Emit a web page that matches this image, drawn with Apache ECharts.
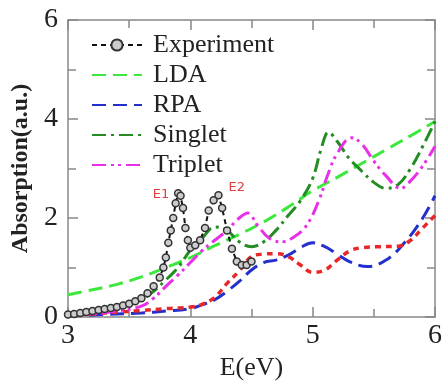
<!doctype html>
<html lang="en">
<head>
    <meta charset="UTF-8">
    <title>Absorption</title>
    <script type="text/javascript" src="https://cdn.jsdelivr.net/npm/echarts@6/dist/echarts.min.js"></script>
    <style>
        html, body { margin: 0; padding: 0; background: #fff; }
        #main { width: 442px; height: 381px; }
    </style>
</head>
<body>
<div id="main"></div>
<script type="text/javascript">
// experiment (circles + dashed line)
var expX = [3.0, 3.05, 3.1, 3.15, 3.2, 3.25, 3.3, 3.35, 3.4, 3.45, 3.5, 3.55, 3.6, 3.65, 3.7, 3.75, 3.78, 3.8, 3.82, 3.84, 3.86, 3.88, 3.9, 3.92, 3.94, 3.96, 3.98, 4.0, 4.04, 4.08, 4.12, 4.15, 4.19, 4.23, 4.26, 4.3, 4.34, 4.38, 4.42, 4.46, 4.5];
var expY = [0.05, 0.06, 0.08, 0.1, 0.12, 0.14, 0.16, 0.18, 0.2, 0.23, 0.27, 0.32, 0.38, 0.48, 0.62, 0.8, 1.0, 1.2, 1.5, 1.75, 2.0, 2.3, 2.5, 2.45, 2.2, 1.8, 1.55, 1.4, 1.45, 1.55, 1.8, 2.15, 2.36, 2.46, 2.2, 1.75, 1.38, 1.12, 1.05, 1.05, 1.12];

var ldaX = [3.0, 3.2, 3.4, 3.6, 3.8, 4.0, 4.2, 4.4, 4.6, 4.8, 5.0, 5.2, 5.4, 5.6, 5.8, 6.0];
var ldaY = [0.45, 0.55, 0.66, 0.81, 1.0, 1.2, 1.44, 1.67, 1.92, 2.22, 2.55, 2.82, 3.1, 3.38, 3.66, 3.95];

var rpaX = [3.0, 3.3, 3.6, 3.8, 4.0, 4.1, 4.2, 4.3, 4.4, 4.5, 4.6, 4.7, 4.8, 4.9, 5.0, 5.1, 5.2, 5.3, 5.45, 5.6, 5.75, 5.9, 6.0];
var rpaY = [0.02, 0.05, 0.08, 0.12, 0.17, 0.25, 0.35, 0.52, 0.72, 0.95, 1.1, 1.15, 1.25, 1.4, 1.5, 1.42, 1.27, 1.12, 1.02, 1.15, 1.5, 2.0, 2.45];

var singX = [3.0, 3.2, 3.4, 3.6, 3.7, 3.8, 3.9, 4.0, 4.1, 4.2, 4.3, 4.4, 4.5, 4.6, 4.7, 4.8, 4.9, 5.0, 5.07, 5.13, 5.2, 5.3, 5.4, 5.5, 5.6, 5.7, 5.8, 5.9, 6.0];
var singY = [0.03, 0.08, 0.17, 0.35, 0.52, 0.75, 1.0, 1.35, 1.6, 1.82, 1.75, 1.52, 1.42, 1.52, 1.75, 2.05, 2.35, 2.8, 3.4, 3.73, 3.55, 3.2, 2.95, 2.72, 2.6, 2.68, 3.0, 3.45, 3.95];

var tripX = [3.0, 3.2, 3.4, 3.6, 3.7, 3.8, 3.9, 4.0, 4.1, 4.2, 4.3, 4.4, 4.47, 4.55, 4.65, 4.75, 4.85, 4.95, 5.05, 5.12, 5.2, 5.32, 5.4, 5.5, 5.6, 5.72, 5.8, 5.9, 6.0];
var tripY = [0.03, 0.06, 0.12, 0.22, 0.38, 0.62, 0.85, 1.1, 1.35, 1.55, 1.75, 2.0, 2.1, 1.85, 1.58, 1.52, 1.62, 1.85, 2.35, 2.85, 3.3, 3.62, 3.5, 3.15, 2.85, 2.6, 2.75, 3.05, 3.45];

// red dotted curve (no legend entry)
var redX = [3.0, 3.3, 3.6, 3.8, 4.0, 4.1, 4.2, 4.3, 4.4, 4.5, 4.6, 4.7, 4.8, 4.9, 5.0, 5.1, 5.2, 5.3, 5.4, 5.55, 5.7, 5.8, 5.9, 6.0];
var redY = [0.02, 0.08, 0.13, 0.17, 0.2, 0.26, 0.4, 0.68, 0.93, 1.22, 1.27, 1.28, 1.22, 1.05, 0.9, 0.95, 1.15, 1.33, 1.4, 1.42, 1.43, 1.55, 1.8, 2.05];

var legendNames = ['Experiment', 'LDA', 'RPA', 'Singlet', 'Triplet'];

var peakNames = ['E1', 'E2'];
var peakX = [3.76, 4.38];
var peakY = [2.48, 2.62];

function pairs(xs, ys) {
    var out = [];
    for (var i = 0; i < xs.length; i++) out.push([xs[i], ys[i]]);
    return out;
}

var serif = '"Liberation Serif", "Times New Roman", Times, serif';
var axisColor = '#888';

var myChart = echarts.init(document.getElementById('main'));

function xAx(pos, labels) {
    return {
        type: 'value', position: pos, min: 3, max: 6, interval: 1,
        name: labels ? 'E(eV)' : '', nameLocation: 'middle', nameGap: 36,
        nameTextStyle: { fontFamily: serif, fontSize: 26, color: '#222' },
        axisLine: { show: true, onZero: false, lineStyle: { color: axisColor, width: 1.5 } },
        axisTick: { show: true, inside: true, length: 10, lineStyle: { color: axisColor, width: 1.5 } },
        minorTick: { show: true, splitNumber: 2, length: 8, lineStyle: { color: axisColor, width: 1.5 } },
        axisLabel: { show: labels, margin: 5, fontFamily: serif, fontSize: 28, color: '#222' },
        splitLine: { show: false }
    };
}
function yAx(pos, labels) {
    return {
        type: 'value', position: pos, min: 0, max: 6, interval: 2,
        name: labels ? 'Absorption(a.u.)' : '', nameLocation: 'middle', nameGap: 32,
        nameTextStyle: { fontFamily: serif, fontSize: 24, fontWeight: 'bold', color: '#222' },
        axisLine: { show: true, onZero: false, lineStyle: { color: axisColor, width: 1.5 } },
        axisTick: { show: true, inside: true, length: 10, lineStyle: { color: axisColor, width: 1.5 } },
        minorTick: { show: true, splitNumber: 2, length: 8, lineStyle: { color: axisColor, width: 1.5 } },
        axisLabel: { show: labels, margin: 10, fontFamily: serif, fontSize: 28, color: '#222' },
        splitLine: { show: false }
    };
}

function curve(name, xs, ys, color, dash, width) {
    return {
        name: name, type: 'line', data: pairs(xs, ys),
        smooth: 0.4, showSymbol: false, symbol: 'none',
        lineStyle: { color: color, width: width || 3, type: dash },
        itemStyle: { color: color }
    };
}

var peakMarks = [];
for (var i = 0; i < peakNames.length; i++) {
    peakMarks.push({ name: peakNames[i], coord: [peakX[i], peakY[i]] });
}

var legendData = [];
for (var j = 0; j < legendNames.length; j++) {
    if (j === 0) legendData.push({ name: legendNames[j] });
    else legendData.push({ name: legendNames[j], itemStyle: { opacity: 0 } });
}

var option = {
    animation: false,
    grid: { left: 68, right: 7, top: 20, bottom: 64, outerBoundsMode: 'none', containLabel: false },
    xAxis: [xAx('bottom', true), xAx('top', false)],
    yAxis: [yAx('left', true), yAx('right', false)],
    legend: {
        orient: 'vertical', left: 86, top: 27, itemGap: 4,
        itemWidth: 50, itemHeight: 14,
        textStyle: { fontFamily: serif, fontSize: 26, color: '#222', padding: [0, 0, 0, 6] },
        data: legendData
    },
    series: [
        curve('LDA', ldaX, ldaY, '#3de83d', [14, 7]),
        curve('RPA', rpaX, rpaY, '#2430cc', [14, 7]),
        curve('', redX, redY, '#e82828', [6, 5], 3.5),
        curve('Singlet', singX, singY, '#238c23', [14, 5, 3, 5]),
        curve('Triplet', tripX, tripY, '#e830e8', [14, 5, 3, 4, 3, 5]),
        {
            name: 'Experiment', type: 'line', data: pairs(expX, expY),
            symbol: 'circle', symbolSize: 7, showSymbol: true,
            lineStyle: { color: '#111', width: 2, type: [5, 4] },
            itemStyle: { color: '#ccc', borderColor: '#333', borderWidth: 1.5 },
            markPoint: {
                symbol: 'circle', symbolSize: 1,
                itemStyle: { color: 'transparent' },
                label: { show: true, position: 'inside', formatter: '{b}', color: '#e04040', fontSize: 13, fontFamily: 'DejaVu Sans' },
                data: peakMarks
            }
        }
    ]
};

myChart.setOption(option);
</script>
</body>
</html>
